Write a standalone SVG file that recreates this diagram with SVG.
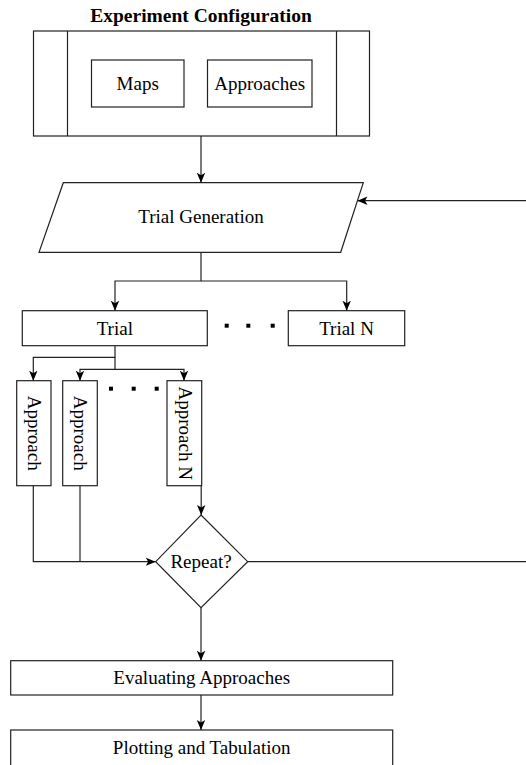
<svg xmlns="http://www.w3.org/2000/svg" width="526" height="765" viewBox="0 0 526 765">
<style>
.box{fill:#fff;stroke:#222;stroke-width:1.2}
.ln{fill:none;stroke:#222;stroke-width:1.2}
.t{font-family:'Liberation Serif','Times New Roman','DejaVu Serif',serif;font-size:19px;fill:#000;text-anchor:middle}
.b{font-weight:bold;font-size:19.5px}
.dot{fill:#000}
</style>
<defs>
<marker id="ah" viewBox="0 0 10 10" refX="10" refY="5" markerWidth="10" markerHeight="10" markerUnits="userSpaceOnUse" orient="auto">
<path d="M0,0.8 L10,5 L0,9.2 L2.5,5 Z" fill="#000"/>
</marker>
</defs>
<rect width="526" height="765" fill="#fff"/>
<g id="config">
<text class="t b" x="201" y="22">Experiment Configuration</text>
<rect class="box" x="33.5" y="31" width="336" height="105"/>
<line class="ln" x1="67.5" y1="31" x2="67.5" y2="136"/>
<line class="ln" x1="336.5" y1="31" x2="336.5" y2="136"/>
</g>
<g id="maps">
<rect class="box" x="91.5" y="60" width="92.5" height="47"/>
<text class="t" x="137.7" y="89.5">Maps</text>
</g>
<g id="approaches">
<rect class="box" x="207.5" y="60" width="104.5" height="47"/>
<text class="t" x="259.7" y="89.5">Approaches</text>
</g>
<g id="trialgen">
<polygon class="box" points="63.3,182.7 363.3,182.7 340.7,252.3 39,252.3"/>
<text class="t" x="201" y="223">Trial Generation</text>
</g>
<g id="trial">
<rect class="box" x="22.3" y="310.7" width="185" height="35"/>
<text class="t" x="114.8" y="334.5">Trial</text>
</g>
<g id="trialn">
<rect class="box" x="288.3" y="310.7" width="116.4" height="35"/>
<text class="t" x="346.5" y="334.5">Trial N</text>
</g>
<g id="approach1">
<rect class="box" x="16.7" y="380.7" width="34.3" height="105"/>
<text class="t" transform="translate(27.5,433.2) rotate(90)">Approach</text>
</g>
<g id="approach2">
<rect class="box" x="62.7" y="380.7" width="34.6" height="105"/>
<text class="t" transform="translate(73.5,433.2) rotate(90)">Approach</text>
</g>
<g id="approachn">
<rect class="box" x="167" y="380.7" width="34.7" height="105"/>
<text class="t" transform="translate(178.5,433.2) rotate(90)">Approach N</text>
</g>
<g id="repeat">
<polygon class="box" points="201,515 247.7,561.7 201,607.7 155.7,561.7"/>
<text class="t" x="201" y="568">Repeat?</text>
</g>
<g id="evaluating">
<rect class="box" x="10.7" y="660.7" width="382" height="34.3"/>
<text class="t" x="201.7" y="684">Evaluating Approaches</text>
</g>
<g id="plotting">
<rect class="box" x="10.7" y="730" width="382" height="50"/>
<text class="t" x="201.7" y="754">Plotting and Tabulation</text>
</g>
<g id="dots">
<rect class="dot" x="224.7" y="323.7" width="4" height="4"/>
<rect class="dot" x="246.3" y="323.7" width="4" height="4"/>
<rect class="dot" x="270.7" y="323.7" width="4" height="4"/>
<rect class="dot" x="109" y="386.7" width="4" height="4"/>
<rect class="dot" x="131.7" y="386.7" width="4" height="4"/>
<rect class="dot" x="154.7" y="386.7" width="4" height="4"/>
</g>
<g id="connectors">
<path class="ln" d="M201,136 V182.7" marker-end="url(#ah)"/>
<path class="ln" d="M201,252.3 V281 H115 V310.7" marker-end="url(#ah)"/>
<path class="ln" d="M201,281 H346.7 V310.7" marker-end="url(#ah)"/>
<path class="ln" d="M115,345.7 V357.3 H33.3 V380.7" marker-end="url(#ah)"/>
<path class="ln" d="M115,357.3 V369.3 H80 V380.7" marker-end="url(#ah)"/>
<path class="ln" d="M115,369.3 H184 V380.7" marker-end="url(#ah)"/>
<path class="ln" d="M201.2,485.7 V515" marker-end="url(#ah)"/>
<path class="ln" d="M33.3,485.7 V561.7 H155.7" marker-end="url(#ah)"/>
<path class="ln" d="M80,485.7 V561.7"/>
<path class="ln" d="M247.7,561.7 H528 V200.7 H357.5" marker-end="url(#ah)"/>
<path class="ln" d="M201,607.7 V660.7" marker-end="url(#ah)"/>
<path class="ln" d="M201,695 V730" marker-end="url(#ah)"/>
</g>
</svg>
